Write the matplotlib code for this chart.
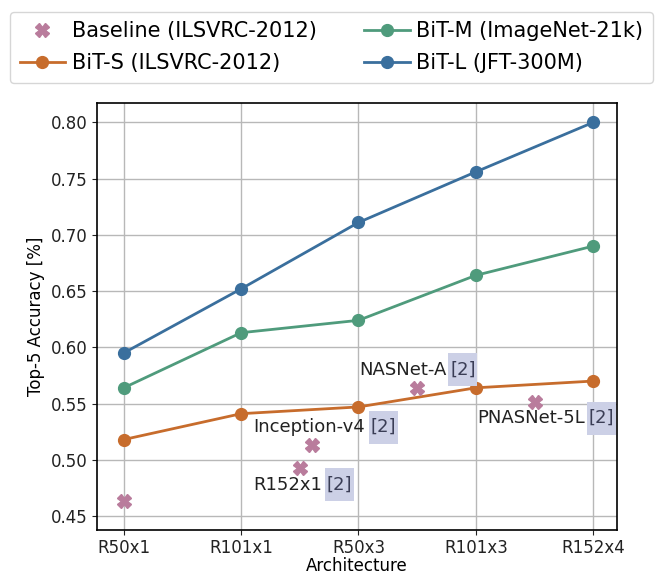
import matplotlib
matplotlib.use("Agg")
import matplotlib.pyplot as plt
from matplotlib.path import Path

architectures = ["R50x1", "R101x1", "R50x3", "R101x3", "R152x4"]

bit_s = [0.518, 0.541, 0.547, 0.564, 0.570]
bit_m = [0.564, 0.613, 0.624, 0.664, 0.690]
bit_l = [0.595, 0.652, 0.711, 0.756, 0.800]

# baselines sit between the architecture ticks
baseline_x = [0.0, 1.5, 1.6, 2.5, 3.5]
baseline_y = [0.463, 0.493, 0.513, 0.564, 0.551]

# (name, text x, text y, "[2]" x)
notes = [
    ("R152x1", 1.10, 0.478, 1.84),
    ("Inception-v4", 1.10, 0.529, 2.21),
    ("NASNet-A", 2.01, 0.580, 2.89),
    ("PNASNet-5L", 3.01, 0.537, 4.07),
]


def tall_box(x0, y0, width, height, mutation_size):
    # box a little taller than the text, like the highlighted refs
    px = 0.1 * mutation_size
    py = 0.42 * mutation_size
    return Path([(x0 - px, y0 - py), (x0 + width + px, y0 - py),
                 (x0 + width + px, y0 + height + py), (x0 - px, y0 + height + py),
                 (x0 - px, y0 - py)], closed=True)


fig = plt.figure(figsize=(6.63, 5.86), dpi=100)
ax = fig.add_axes([0.146, 0.0956, 0.785, 0.728])

x = range(len(architectures))
h0, = ax.plot(baseline_x, baseline_y, "X", color="#b97c9c", markersize=9.5,
              linestyle="none", label="Baseline (ILSVRC-2012)", zorder=4)
h1, = ax.plot(x, bit_s, "-o", color="#c76c2c", lw=2, markersize=8.5,
              label="BiT-S (ILSVRC-2012)", zorder=3)
h2, = ax.plot(x, bit_m, "-o", color="#4f9b7c", lw=2, markersize=8.5,
              label="BiT-M (ImageNet-21k)", zorder=3)
h3, = ax.plot(x, bit_l, "-o", color="#3a6f9d", lw=2, markersize=8.5,
              label="BiT-L (JFT-300M)", zorder=3)

for name, tx, ty, rx in notes:
    ax.text(tx, ty, name, fontsize=13, va="center", ha="left", color="#222222")
    ax.text(rx, ty, "[2]", fontsize=13, va="center", ha="center", color="#3a3d55",
            bbox=dict(boxstyle=tall_box, facecolor="#ccd0e6", edgecolor="none"))

ax.set_xticks(list(x))
ax.set_xticklabels(architectures)
ax.set_xlim(-0.23, 4.205)
ax.set_ylim(0.4376, 0.8169)
ax.set_yticks([0.45, 0.50, 0.55, 0.60, 0.65, 0.70, 0.75, 0.80])
ax.set_yticklabels(["%.2f" % v for v in ax.get_yticks()])
ax.tick_params(labelsize=12, colors="#222222", pad=3)
ax.grid(True, color="#b8b8b8", lw=1)
ax.set_axisbelow(True)
for s in ax.spines.values():
    s.set_color("black")
    s.set_linewidth(1.2)

ax.set_xlabel("Architecture", fontsize=12, labelpad=0)
ax.set_ylabel("Top-5 Accuracy [%]", fontsize=12)

fig.legend(handles=[h0, h1, h2, h3], loc="upper center", bbox_to_anchor=(0.5, 0.998),
           ncol=2, fontsize=15, frameon=True, edgecolor="#cccccc",
           handlelength=2.2, columnspacing=2.3, handletextpad=0.3,
           labelspacing=0.6, borderpad=0.45)

fig.savefig("out.png", dpi=100)
